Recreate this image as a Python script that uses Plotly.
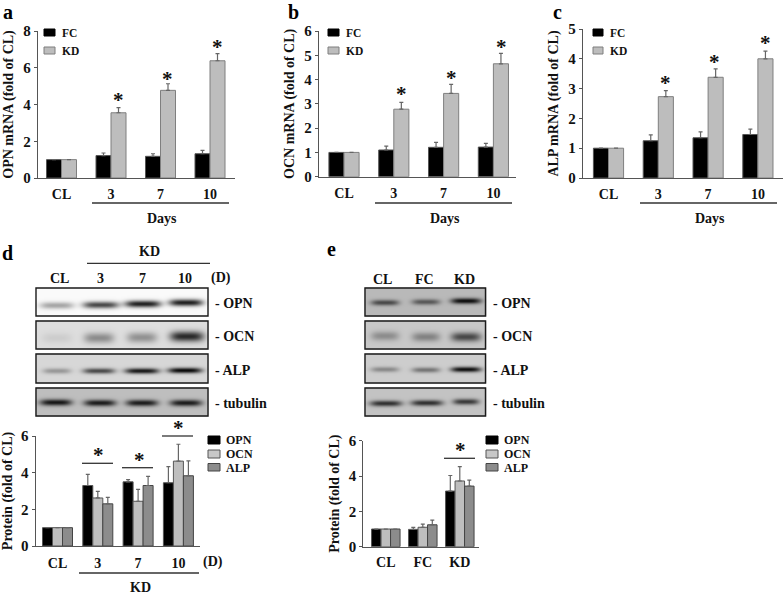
import numpy as np
import plotly.graph_objects as go

W, H = 784, 594
FONT = "Liberation Serif"

# ---------- data ----------
mrna_groups = ["CL", "3", "7", "10"]
a_fc = [1, 1.22, 1.18, 1.32]
a_fc_err = [0, 0.14, 0.14, 0.18]
a_kd = [1, 3.55, 4.77, 6.38]
a_kd_err = [0, 0.28, 0.36, 0.39]

b_fc = [1, 1.10, 1.21, 1.22]
b_fc_err = [0, 0.16, 0.20, 0.15]
b_kd = [1, 2.78, 3.43, 4.65]
b_kd_err = [0, 0.28, 0.37, 0.43]

c_fc = [1, 1.25, 1.35, 1.46]
c_fc_err = [0, 0.20, 0.20, 0.18]
c_kd = [1, 2.73, 3.38, 4.00]
c_kd_err = [0, 0.20, 0.28, 0.26]

d_groups = ["CL", "3", "7", "10"]
d_opn = [1, 3.30, 3.50, 3.45]
d_opn_err = [0, 0.61, 0.12, 0.88]
d_ocn = [1, 2.62, 2.44, 4.63]
d_ocn_err = [0, 0.36, 0.65, 0.92]
d_alp = [1, 2.30, 3.30, 3.83]
d_alp_err = [0, 0.35, 0.50, 0.81]

e_groups = ["CL", "FC", "KD"]
e_opn = [1, 0.98, 3.15]
e_opn_err = [0, 0.11, 0.88]
e_ocn = [1, 1.10, 3.72]
e_ocn_err = [0, 0.18, 0.81]
e_alp = [1, 1.24, 3.43]
e_alp_err = [0, 0.26, 0.34]

# blot band greys per lane (0 = black)
blot_d_opn = [165, 70, 30, 30]
blot_d_ocn = [205, 140, 145, 40]
blot_d_alp = [150, 70, 20, 5]
blot_d_tub = [20, 25, 25, 25]
blot_e_opn = [70, 85, 10]
blot_e_ocn = [140, 130, 70]
blot_e_alp = [135, 115, 10]
blot_e_tub = [45, 45, 55]

# ---------- helpers ----------
px = lambda x: x / W
py = lambda y: 1 - y / H

fig = go.Figure()
ann, shapes = [], []
layout = {}


def text(x, y, s, size=14, anchor="center", color="#111", angle=0):
    ann.append(dict(text=s, x=px(x), y=py(y), xref="paper", yref="paper", showarrow=False,
                    xanchor=anchor, yanchor="middle", textangle=angle,
                    font=dict(family=FONT, size=size, color=color)))


def line(x0, x1, y, color="#333", width=1.3):
    shapes.append(dict(type="line", xref="paper", yref="paper", x0=px(x0), x1=px(x1),
                       y0=py(y), y1=py(y), line=dict(color=color, width=width)))


def swatch(x0, x1, y0, y1, fill, edge):
    shapes.append(dict(type="rect", xref="paper", yref="paper", x0=px(x0), x1=px(x1),
                       y0=py(y0), y1=py(y1), fillcolor=fill, line=dict(color=edge, width=1)))


def panel(n, left, right, top, bottom, c0, step, ymax, dtick, cats, series, title, ticklen, standoff):
    sx = "" if n == 1 else str(n)
    xa, ya = "x" + sx, "y" + sx
    for vals, err, fill, edge in series:
        fig.add_bar(x=cats, y=vals, xaxis=xa, yaxis=ya, showlegend=False,
                    marker=dict(color=fill, line=dict(color=edge, width=1)),
                    error_y=dict(type="data", symmetric=False, array=err, arrayminus=[0] * len(err),
                                 color="#666", thickness=1.2, width=2))
    layout["xaxis" + sx] = dict(domain=[px(left), px(right)], anchor=ya, type="category",
                                categoryorder="array", categoryarray=cats,
                                range=[(left - c0) / step, (right - c0) / step],
                                showline=True, linecolor="#555", linewidth=1.3,
                                ticks="outside", ticklen=ticklen, tickcolor="rgba(0,0,0,0)",
                                tickprefix="<b>", ticksuffix="</b>",
                                tickfont=dict(family=FONT, size=14, color="#111"),
                                showgrid=False, zeroline=False)
    layout["yaxis" + sx] = dict(domain=[py(bottom), py(top)], anchor=xa, range=[0, ymax], dtick=dtick,
                                showline=True, linecolor="#555", linewidth=1.3,
                                ticks="outside", ticklen=3, tickcolor="#555",
                                tickprefix="<b>", ticksuffix="</b>",
                                tickfont=dict(family=FONT, size=15, color="#111"),
                                title=dict(text="<b>%s</b>" % title, standoff=standoff,
                                           font=dict(family=FONT, size=14, color="#111")),
                                showgrid=False, zeroline=False)


BLK, BLK_E = "#000000", "#555555"
KD_F, KD_E = "#BDBDBD", "#7F7F7F"
OCN_F, OCN_E = "#BEBEBE", "#555555"
ALP_F, ALP_E = "#8C8C8C", "#444444"

panel(1, 38, 234.7, 31, 178, 61.5, 49.5, 8, 2, mrna_groups,
      [(a_fc, a_fc_err, BLK, BLK_E), (a_kd, a_kd_err, KD_F, KD_E)], "OPN mRNA (fold of CL)", 3, 6)
panel(2, 319, 516, 31, 176.7, 344, 49.8, 6, 1, mrna_groups,
      [(b_fc, b_fc_err, BLK, BLK_E), (b_kd, b_kd_err, KD_F, KD_E)], "OCN mRNA (fold of CL)", 3, 6)
panel(3, 583, 783, 29, 178, 608.5, 49.8, 5, 1, mrna_groups,
      [(c_fc, c_fc_err, BLK, BLK_E), (c_kd, c_kd_err, KD_F, KD_E)], "ALP mRNA (fold of CL)", 3, 6)
panel(4, 35.7, 200, 436, 546, 57.5, 40.3, 6, 2, d_groups,
      [(d_opn, d_opn_err, BLK, BLK_E), (d_ocn, d_ocn_err, OCN_F, OCN_E), (d_alp, d_alp_err, ALP_F, ALP_E)],
      "Protein (fold of CL)", 4, 5)
panel(5, 363.3, 479.3, 440.7, 546.7, 385.8, 37, 6, 2, e_groups,
      [(e_opn, e_opn_err, BLK, BLK_E), (e_ocn, e_ocn_err, OCN_F, OCN_E), (e_alp, e_alp_err, ALP_F, ALP_E)],
      "Protein (fold of CL)", 2, 5)

# bar widths differ per panel, set per trace in category units
for i, tr in enumerate(fig.data):
    tr.width = 0.303 if i < 6 else (0.2481 if i < 9 else 0.2568)
    n = 2 if i < 6 else 3
    k = i % 2 if i < 6 else (i - 6) % 3
    tr.offset = (k - n / 2) * tr.width

# ---------- western blots drawn as heatmaps on a page-wide pixel axis ----------
layout["xaxis6"] = dict(domain=[0, 1], range=[0, W], visible=False, anchor="y6")
layout["yaxis6"] = dict(domain=[0, 1], range=[H, 0], visible=False, anchor="x6")


def blot(x0, x1, y0, y1, bg, lanes, peaks, halfw, centers, sig):
    xs = np.arange(x0, x1 + 1.0)
    ys = np.arange(y0, y1 + 1.0)
    X, Y = np.meshgrid(xs, ys)
    Z = np.full(X.shape, float(bg))
    for lx, p, hw, cy in zip(lanes, peaks, halfw, centers):
        Z -= (bg - p) * np.exp(-np.abs((X - lx) / hw) ** 4) * np.exp(-((Y - cy) / sig) ** 2)
    fig.add_heatmap(x=xs, y=ys, z=Z, xaxis="x6", yaxis="y6", zmin=0, zmax=255, zsmooth="best",
                    colorscale=[[0, "#000"], [1, "#fff"]], showscale=False, hoverinfo="skip")
    shapes.append(dict(type="rect", xref="paper", yref="paper", x0=px(x0), x1=px(x1), y0=py(y0), y1=py(y1),
                       line=dict(color="#1a1a1a", width=1.4)))


DX0, DX1 = 36, 208
blot(DX0, DX1, 288, 316, 250, [56, 100, 142, 185], blot_d_opn, [17, 18, 18, 17], [304.5, 304, 303, 301.7], 3.4)
blot(DX0, DX1, 321, 349, 222, [56, 98, 141, 186], blot_d_ocn, [15, 15, 15, 17], [337, 337, 336.5, 335.5], 5.2)
blot(DX0, DX1, 354, 383, 215, [56, 98, 141, 184], blot_d_alp, [14, 16, 17, 17], [370, 370, 370, 369.5], 2.7)
blot(DX0, DX1, 388, 416, 190, [55, 99, 141, 185], blot_d_tub, [16, 16, 16, 16], [401.5, 402, 402, 402], 3.2)
EX0, EX1 = 365, 485.5
blot(EX0, EX1, 288, 316, 185, [384, 425, 465], blot_e_opn, [14, 14, 15], [301.7, 301, 300], 2.8)
blot(EX0, EX1, 321, 349, 200, [384, 425, 465], blot_e_ocn, [14, 14, 15], [335, 336, 336], 4.6)
blot(EX0, EX1, 354, 383, 205, [384, 425, 465], blot_e_alp, [14, 14, 15], [368.5, 369, 368.5], 2.6)
blot(EX0, EX1, 388, 416, 195, [385, 426, 465], blot_e_tub, [16, 16, 13], [402.5, 402, 400.8], 2.9)

# ---------- panel letters ----------
for s, x, y in [("a", 8, 12), ("b", 293, 12), ("c", 557, 12), ("d", 8, 253), ("e", 331, 249)]:
    text(x, y, "<b>%s</b>" % s, size=20, color="#000")

# ---------- legends ----------
for x0, x1, tx in [(44, 55, 60), (328, 339, 344), (593, 603, 608)]:
    swatch(x0, x1, 29, 36, BLK, BLK)
    swatch(x0, x1, 47, 54, KD_F, KD_E)
    text(tx, 33, "<b>FC</b>", size=11.5, anchor="left")
    text(tx, 51, "<b>KD</b>", size=11.5, anchor="left")
for x0, x1, tx in [(208, 220, 224), (486, 498, 502)]:
    swatch(x0, x1, 436, 444, BLK, BLK)
    swatch(x0, x1, 450, 458, "#C8C8C8", OCN_E)
    swatch(x0, x1, 463.5, 471, ALP_F, ALP_E)
    text(tx, 440, "<b>OPN</b>", size=12, anchor="left")
    text(tx, 454, "<b>OCN</b>", size=12, anchor="left")
    text(tx, 468, "<b>ALP</b>", size=12, anchor="left")

# ---------- group lines and labels ----------
line(92, 229, 203)
line(375, 512, 203)
line(640, 777, 203)
for x in (162, 445, 710):
    text(x, 218, "<b>Days</b>", size=14)
line(87, 210, 263.3)
text(149, 251.5, "<b>KD</b>", size=14)
for s, x in [("CL", 59), ("3", 100), ("7", 142), ("10", 185), ("(D)", 221)]:
    text(x, 278, "<b>%s</b>" % s, size=14)
for s, x in [("CL", 382), ("FC", 424), ("KD", 464)]:
    text(x, 279, "<b>%s</b>" % s, size=14)
for s, y in [("- OPN", 303), ("- OCN", 336), ("- ALP", 370), ("- tubulin", 403)]:
    text(213, y, "<b>%s</b>" % s, size=14, anchor="left")
    text(491, y, "<b>%s</b>" % s, size=14, anchor="left")
line(82, 113, 463.3)
line(122, 153, 467.7)
line(162, 193, 436)
line(444, 475, 458.3)
line(79, 199, 573)
text(140, 587, "<b>KD</b>", size=14)
text(213, 562, "<b>(D)</b>", size=14)

# ---------- asterisks ----------
for x, y in [(118, 100), (167, 79), (217, 47), (401, 94), (451, 78), (501, 47), (665, 83), (714, 62), (765, 43),
             (99, 455), (139, 460), (178, 428), (460, 450)]:
    text(x, y, "<b>*</b>", size=21, color="#111")

layout.update(width=W, height=H, margin=dict(l=0, r=0, t=0, b=0, autoexpand=False),
              plot_bgcolor="rgba(0,0,0,0)", paper_bgcolor="white",
              annotations=ann, shapes=shapes, showlegend=False, barmode="overlay")
fig.update_layout(**layout)
fig.write_html("out.html", config={"displayModeBar": False}, post_script="document.body.style.margin='0';")
